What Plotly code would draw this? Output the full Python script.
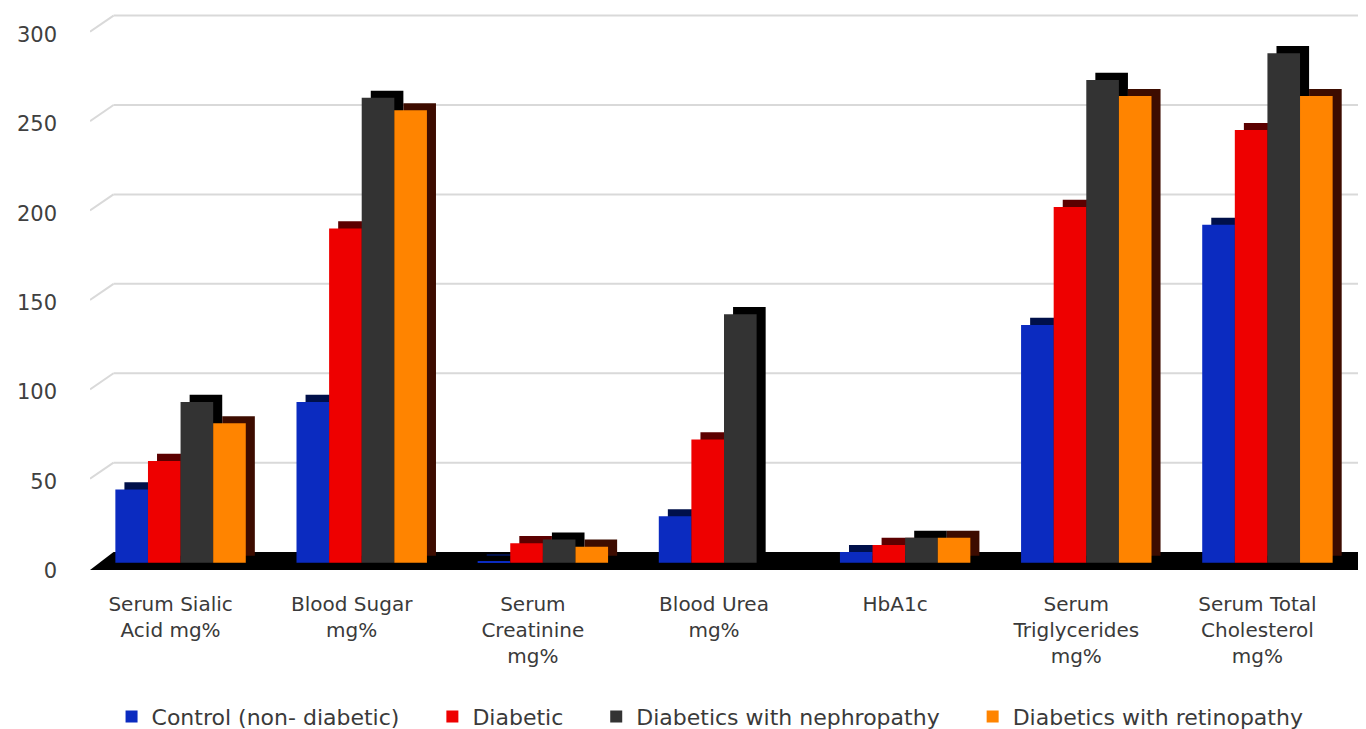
import plotly.graph_objects as go

categories = ["Serum Sialic<br>Acid mg%", "Blood Sugar<br>mg%", "Serum<br>Creatinine<br>mg%",
              "Blood Urea<br>mg%", "HbA1c", "Serum<br>Triglycerides<br>mg%", "Serum Total<br>Cholesterol<br>mg%"]
series_names = ["Control (non- diabetic)", "Diabetic", "Diabetics with nephropathy", "Diabetics with retinopathy"]
control = [41, 90, 1, 26, 6, 133, 189]
diabetic = [57, 187, 11, 69, 10, 199, 242]
nephropathy = [90, 260, 13, 139, 14, 270, 285]
retinopathy = [78, 253, 9, None, 14, 261, 261]
y_ticks = [0, 50, 100, 150, 200, 250, 300]

front_colors = ["#0b2bc0", "#ee0000", "#333333", "#ff8400"]
shadow_colors = ["#00104a", "#5c0000", "#000000", "#3d0c00"]

values = [control, diabetic, nephropathy, retinopathy]
x = list(range(len(categories)))
w = 0.18
dx = 0.05      # depth offset (category units)
dy = 4         # depth offset (value units)
offsets = [-2 * w + i * w for i in range(4)]
pad = "\u00a0" * 4

fig = go.Figure()
for i in range(4):
    fig.add_trace(go.Bar(x=x, y=values[i], base=dy, width=w, offset=offsets[i] + dx,
                         marker=dict(color=shadow_colors[i], line=dict(width=0)),
                         showlegend=False, hoverinfo="skip"))
    fig.add_trace(go.Bar(x=x, y=values[i], width=w, offset=offsets[i],
                         name=series_names[i] + (pad if i < 3 else ""),
                         marker=dict(color=front_colors[i], line=dict(width=0))))

shapes = []
depth = 6
for t in y_ticks[1:]:
    shapes.append(dict(type="line", xref="x", yref="y", x0=-0.37, x1=6.6, y0=t + depth, y1=t + depth,
                       line=dict(color="#d9d9d9", width=2), layer="below"))
    shapes.append(dict(type="line", xref="x", yref="y", x0=-0.5, x1=-0.37, y0=t - 3, y1=t + depth,
                       line=dict(color="#d9d9d9", width=2), layer="below"))
shapes.append(dict(type="path", xref="x", yref="y",
                   path="M -0.5,-4 L -0.37,6 L 6.6,6 L 6.6,-4 Z",
                   fillcolor="#000000", line=dict(width=0), layer="below"))

fig.update_layout(
    width=1366, height=729,
    margin=dict(l=90, r=8, t=12, b=159, autoexpand=False),
    paper_bgcolor="white", plot_bgcolor="white",
    barmode="overlay",
    shapes=shapes,
    font=dict(family="DejaVu Sans", color="#404040", size=20),
    xaxis=dict(tickmode="array", tickvals=x, ticktext=categories, range=[-0.5, 6.5],
               showgrid=False, zeroline=False, showline=False, ticks="", automargin=False,
               tickfont=dict(size=20, color="#3a3a3a"), ticklabelstandoff=20, ticklabelshift=-10),
    yaxis=dict(range=[-4, 308], tickvals=y_ticks, showgrid=False, zeroline=False,
               showline=False, ticks="", automargin=False,
               tickfont=dict(size=21, color="#404040"),
               ticklabelstandoff=32, ticklabelshift=8),
    legend=dict(orientation="h", x=0.489, xanchor="center", y=-0.263, yanchor="middle",
                font=dict(size=22, color="#3a3a3a"), itemwidth=30, traceorder="normal"),
    bargap=0.28,
)

fig.write_html("out.html", config={"displayModeBar": False},
               post_script="document.body.style.margin='0px';document.body.style.overflow='hidden';")
